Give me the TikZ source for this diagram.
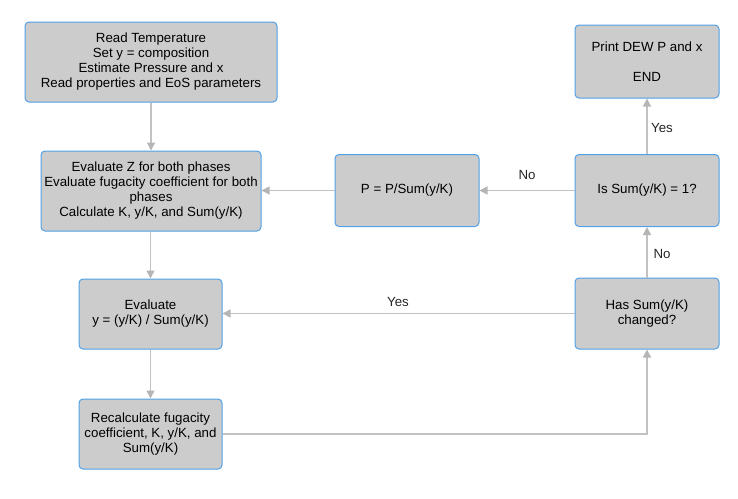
\documentclass[tikz,border=0pt]{standalone}
\usepackage{fontspec}
\setmainfont{Liberation Sans}
\usetikzlibrary{arrows.meta}
\definecolor{boxfill}{HTML}{CCCCCC}
\definecolor{boxline}{HTML}{4FA0E8}
\definecolor{conn}{HTML}{C2C2C2}
\definecolor{tip}{HTML}{B5B5B5}
\tikzset{
  flowbox/.style={draw=boxline, fill=boxfill, line width=1pt, rounded corners=4pt,
    align=center, inner sep=2pt, font=\fontsize{13.3}{15}\selectfont, text=black},
  link/.style={draw=conn, line width=1.3pt,
    -{Triangle[width=8pt,length=8pt,color=tip]}},
  lbl/.style={font=\fontsize{13.3}{15}\selectfont, text=black!85, inner sep=0pt}
}
\begin{document}
\begin{tikzpicture}[x=1pt,y=-1pt]
\useasboundingbox (0,0) rectangle (738,498);
\node[flowbox, minimum width=252pt, minimum height=80pt] (read) at (151,62)
  {Read Temperature\\Set y = composition\\Estimate Pressure and x\\Read properties and EoS parameters};
\node[flowbox, minimum width=220pt, minimum height=80pt] (evalz) at (151,191)
  {Evaluate Z for both phases\\Evaluate fugacity coefficient for both\\phases\\Calculate K, y/K, and Sum(y/K)};
\node[flowbox, minimum width=144pt, minimum height=72pt] (pnew) at (407,190.5)
  {P = P/Sum(y/K)};
\node[flowbox, minimum width=144pt, minimum height=72pt] (isone) at (647,190.5)
  {Is Sum(y/K) = 1?};
\node[flowbox, minimum width=144pt, minimum height=73pt] (print) at (647,61.5)
  {Print DEW P and x\\[15pt]END};
\node[flowbox, minimum width=143pt, minimum height=70pt] (evaly) at (150.5,314)
  {Evaluate\\y = (y/K) / Sum(y/K)};
\node[flowbox, minimum width=144pt, minimum height=71pt] (changed) at (647,313.5)
  {Has Sum(y/K)\\changed?};
\node[flowbox, minimum width=143pt, minimum height=70pt] (recalc) at (150.5,434)
  {Recalculate fugacity\\coefficient, K, y/K, and\\Sum(y/K)};
\coordinate (corner) at (647,434);

\draw[link] (read.south -| evalz.north) -- (evalz.north);
\draw[link] (pnew.west) -- (pnew.west -| evalz.east);
\draw[link] (isone.west) -- (pnew.east);
\draw[link] (isone.north) -- (print.south);
\draw[link] (changed.north) -- (isone.south);
\draw[link] (changed.west) -- (changed.west -| evaly.east);
\draw[link] (evalz.south -| evaly.north) -- (evaly.north);
\draw[link] (evaly.south) -- (recalc.north);
\draw[link] (recalc.east) -- (corner) -- (changed.south);

\node[lbl] (lno1) at (527,175) {No};
\node[lbl] (lyes1) at (662,128) {Yes};
\node[lbl] (lno2) at (662,254) {No};
\node[lbl] (lyes2) at (398,302) {Yes};
\end{tikzpicture}
\end{document}
